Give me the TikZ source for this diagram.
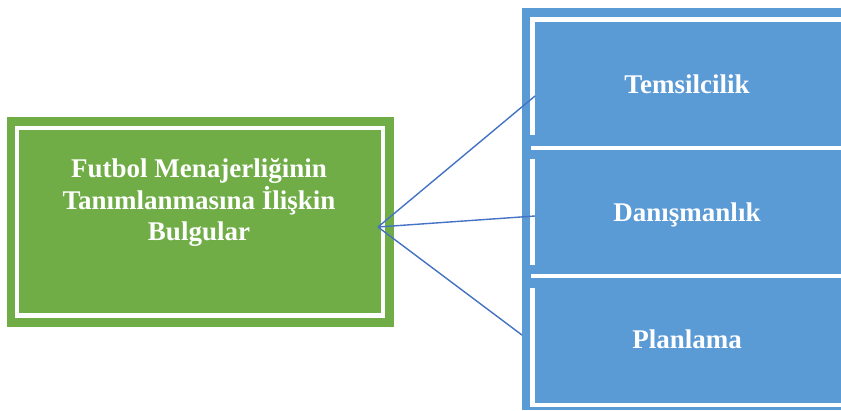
\documentclass[tikz,border=0pt]{standalone}
\usepackage{fontspec}
\setmainfont{Liberation Serif}
\definecolor{boxgreen}{HTML}{70AD47}
\definecolor{boxblue}{HTML}{5B9BD5}
\definecolor{linkblue}{HTML}{4472C4}
\begin{document}
\begin{tikzpicture}[x=1pt,y=-1pt,
  frame/.style={white,line width=4.6pt},
  label/.style={text=white,inner sep=0pt,font=\fontsize{27}{31.5}\selectfont\bfseries},
  link/.style={linkblue,line width=1.4pt}]
\useasboundingbox (0,0) rectangle (841,410);

% green source box with inner white frame
\fill[boxgreen] (7,117) rectangle (394,327);
\draw[frame] (16.8,128) rectangle (383,315.6);
\node[label,align=center] (main) at (199,202.5)
  {Futbol Menajerliğinin\\Tanımlanmasına İlişkin\\Bulgular};

% blue panel holding the three categories
\fill[boxblue] (522,8) rectangle (841,410);
\draw[frame] (530.2,19.3) -- (841,19.3);
\draw[frame] (532.6,17) -- (532.6,135);
\draw[frame] (532.6,159) -- (532.6,265);
\draw[frame] (532.6,288) -- (532.6,407.3);
\draw[frame] (531,148) -- (841,148);
\draw[frame] (531,276) -- (841,276);
\draw[frame] (530.2,405.1) -- (841,405.1);

\node[label,anchor=base] (b1) at (687,93) {Temsilcilik};
\node[label,anchor=base] (b2) at (687,221) {Danışmanlık};
\node[label,anchor=base] (b3) at (687,348) {Planlama};

% connectors fanning out from the source box
\coordinate (hub) at (378,227);
\coordinate (e1) at (535,96);
\coordinate (e2) at (535,216);
\coordinate (e3) at (522,335);
\draw[link] (hub) -- (e1);
\draw[link] (hub) -- (e2);
\draw[link] (hub) -- (e3);
\end{tikzpicture}
\end{document}
